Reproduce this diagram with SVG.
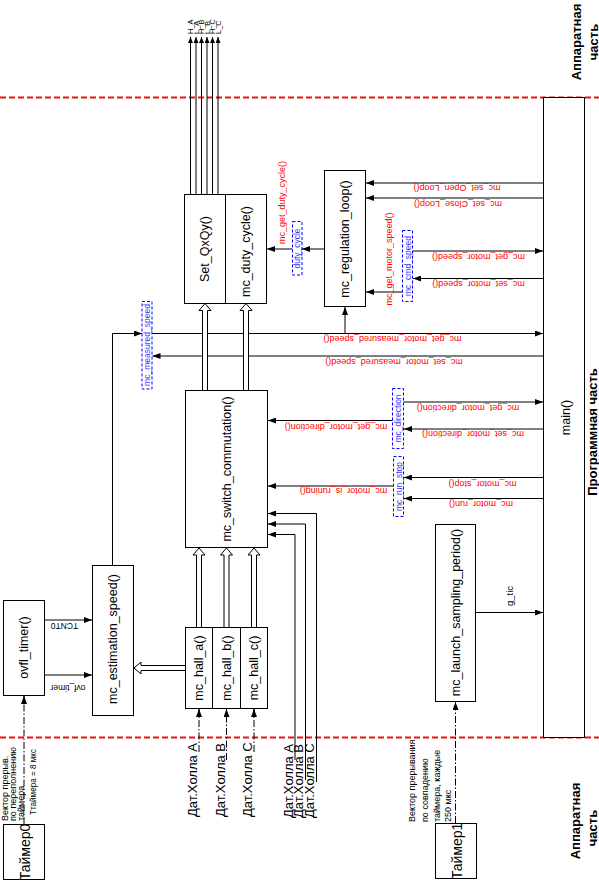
<svg xmlns="http://www.w3.org/2000/svg" width="599" height="881" viewBox="0 0 599 881">
<defs>
<style>
.box{fill:#fff;stroke:#000;stroke-width:1}
.vb{fill:none;stroke:#0000ff;stroke-width:1;stroke-dasharray:3,2}
.ln{fill:none;stroke:#000;stroke-width:1}
.dd{fill:none;stroke:#000;stroke-width:1;stroke-dasharray:7,2,1.5,2}
.ho{fill:#fff;stroke:#000;stroke-width:1}
.sep{stroke:#f01010;stroke-width:2;stroke-dasharray:6,3}
text{font-family:"Liberation Sans",Arial,sans-serif}
.bl{font-size:12.5px;text-anchor:middle;dominant-baseline:central;fill:#000}
.rd{font-size:9px;text-anchor:middle;dominant-baseline:central;fill:#ff0000}
.bu{font-size:8.5px;text-anchor:middle;dominant-baseline:central;fill:#3a3aff}
.sm{font-size:8.5px;text-anchor:middle;dominant-baseline:central;fill:#000}
.nt{font-size:9px;text-anchor:start;fill:#000}
.big{font-size:14px;text-anchor:middle;dominant-baseline:central;fill:#000}
.hl{font-size:13px;text-anchor:start;dominant-baseline:central;fill:#000}
.hd{font-size:13px;font-weight:bold;text-anchor:middle;dominant-baseline:central;fill:#000}
.tp{font-size:7.5px;text-anchor:start;dominant-baseline:central;fill:#000}
</style>
<marker id="a" markerWidth="8" markerHeight="6" refX="8" refY="3" orient="auto" markerUnits="userSpaceOnUse"><path d="M0,0 L8,3 L0,6 z" fill="#000"/></marker>
<marker id="s" markerWidth="6" markerHeight="5" refX="6" refY="2.5" orient="auto" markerUnits="userSpaceOnUse"><path d="M0,0 L6,2.5 L0,5 z" fill="#000"/></marker>
</defs>
<rect width="599" height="881" fill="#fff"/>

<g id="separators">
<line class="sep" x1="0" y1="97.5" x2="599" y2="97.5"/>
<line class="sep" x1="0" y1="737.5" x2="599" y2="737.5"/>
</g>

<g id="connectors">
<line class="ln" x1="190.5" y1="194" x2="190.5" y2="37" marker-end="url(#s)"/>
<line class="ln" x1="196" y1="194" x2="196" y2="37" marker-end="url(#s)"/>
<line class="ln" x1="201.5" y1="194" x2="201.5" y2="37" marker-end="url(#s)"/>
<line class="ln" x1="207" y1="194" x2="207" y2="37" marker-end="url(#s)"/>
<line class="ln" x1="212.5" y1="194" x2="212.5" y2="37" marker-end="url(#s)"/>
<line class="ln" x1="218" y1="194" x2="218" y2="37" marker-end="url(#s)"/>

<line class="ln" x1="543" y1="183" x2="366" y2="183" marker-end="url(#a)"/>
<line class="ln" x1="543" y1="198" x2="366" y2="198" marker-end="url(#a)"/>
<line class="ln" x1="413" y1="251" x2="543" y2="251" marker-end="url(#a)"/>
<line class="ln" x1="543" y1="278.5" x2="413" y2="278.5" marker-end="url(#a)"/>
<line class="ln" x1="402.5" y1="292" x2="366" y2="292" marker-end="url(#a)"/>
<line class="ln" x1="324" y1="249" x2="302" y2="249" marker-end="url(#a)"/>
<line class="ln" x1="292.5" y1="249" x2="267" y2="249" marker-end="url(#a)"/>

<path class="ln" d="M112.5,565 V333.5 H142" marker-end="url(#a)"/>
<line class="ln" x1="152" y1="333.5" x2="543" y2="333.5" marker-end="url(#a)"/>
<line class="ln" x1="345" y1="333.5" x2="345" y2="307" marker-end="url(#a)"/>
<line class="ln" x1="543" y1="356" x2="152.5" y2="356" marker-end="url(#a)"/>

<line class="ln" x1="392.5" y1="420.5" x2="268" y2="420.5" marker-end="url(#a)"/>
<line class="ln" x1="403.5" y1="402" x2="543" y2="402" marker-end="url(#a)"/>
<line class="ln" x1="543" y1="429" x2="404" y2="429" marker-end="url(#a)"/>
<line class="ln" x1="543" y1="477.5" x2="404" y2="477.5" marker-end="url(#a)"/>
<line class="ln" x1="543" y1="498.5" x2="404" y2="498.5" marker-end="url(#a)"/>
<line class="ln" x1="393.5" y1="486" x2="268" y2="486" marker-end="url(#a)"/>

<path class="ln" d="M316.5,782 V513.5 H268" marker-end="url(#a)"/>
<path class="ln" d="M305.5,780 V524 H268" marker-end="url(#a)"/>
<path class="ln" d="M295,760 V534.5 H268" marker-end="url(#a)"/>

<line class="ln" x1="44.5" y1="620" x2="92" y2="620" marker-end="url(#a)"/>
<line class="ln" x1="44.5" y1="675" x2="92" y2="675" marker-end="url(#a)"/>
<line class="ln" x1="476" y1="612.5" x2="543" y2="612.5" marker-end="url(#a)"/>

<line class="dd" x1="24" y1="824" x2="24" y2="696"/>
<line class="ln" x1="24" y1="704" x2="24" y2="696" marker-end="url(#a)"/>
<line class="dd" x1="199" y1="752" x2="199" y2="709"/>
<line class="ln" x1="199" y1="717" x2="199" y2="709" marker-end="url(#a)"/>
<line class="dd" x1="226.5" y1="760" x2="226.5" y2="709"/>
<line class="ln" x1="226.5" y1="717" x2="226.5" y2="709" marker-end="url(#a)"/>
<line class="dd" x1="254" y1="752" x2="254" y2="709"/>
<line class="ln" x1="254" y1="717" x2="254" y2="709" marker-end="url(#a)"/>
<line class="dd" x1="455.5" y1="823" x2="455.5" y2="702"/>
<line class="ln" x1="455.5" y1="710" x2="455.5" y2="702" marker-end="url(#a)"/>

<path class="ho" d="M202.5,390 V310.5 H199 L205,303.5 L211,310.5 H207.5 V390"/>
<path class="ho" d="M243.5,390 V310.5 H240 L246,303.5 L252,310.5 H248.5 V390"/>
<path class="ho" d="M196.5,627 V555 H193 L199,548 L205,555 H201.5 V627"/>
<path class="ho" d="M224,627 V555 H220.5 L226.5,548 L232.5,555 H229 V627"/>
<path class="ho" d="M251.5,627 V555 H248 L254,548 L260,555 H256.5 V627"/>
<path class="ho" d="M185,665.5 H141 V662 L134,668 L141,674 V670.5 H185"/>

<text class="rd" transform="translate(457,188) rotate(180)">mc_set_Open_Loop()</text>
<text class="rd" transform="translate(458,204) rotate(180)">mc_set_Close_Loop()</text>
<text class="rd" transform="translate(478.5,256.5) rotate(180)">mc_get_motor_speed()</text>
<text class="rd" transform="translate(478.5,284) rotate(180)">mc_set_motor_speed()</text>
<text class="rd" transform="translate(392.5,339) rotate(180)">mc_get_motor_measured_speed()</text>
<text class="rd" transform="translate(394,361.5) rotate(180)">mc_set_motor_measured_speed()</text>
<text class="rd" transform="translate(336,427) rotate(180)">mc_get_motor_direction()</text>
<text class="rd" transform="translate(468,407.5) rotate(180)">mc_get_motor_direction()</text>
<text class="rd" transform="translate(473,433.5) rotate(180)">mc_set_motor_direction()</text>
<text class="rd" transform="translate(482.5,483.5) rotate(180)">mc_motor_stop()</text>
<text class="rd" transform="translate(481,503.5) rotate(180)">mc_motor_run()</text>
<text class="rd" transform="translate(343.5,490.5) rotate(180)">mc_motor_is_runing()</text>
<text class="rd" transform="translate(281.5,202.5) rotate(-90)">mc_get_duty_cycle()</text>
<text class="rd" transform="translate(389,259) rotate(-90)">mc_get_motor_speed()</text>
<text class="sm" transform="translate(64.5,625.5) rotate(180)">TCNT0</text>
<text class="sm" transform="translate(68,688) rotate(180)">ovf_timer</text>
<text class="sm" transform="translate(509,596) rotate(-90)" style="font-size:9.5px">g_tic</text>
<text class="tp" transform="translate(190.5,34) rotate(-90)">H_A</text>
<text class="tp" transform="translate(196,34) rotate(-90)">L_A</text>
<text class="tp" transform="translate(201.5,34) rotate(-90)">H_B</text>
<text class="tp" transform="translate(207,34) rotate(-90)">L_B</text>
<text class="tp" transform="translate(212.5,34) rotate(-90)">H_C</text>
<text class="tp" transform="translate(218,34) rotate(-90)">L_C</text>
</g>

<g id="set_qxqy"><rect class="box" x="184.5" y="194.5" width="41" height="109"/><text class="bl" transform="translate(205,249) rotate(-90)">Set_QxQy()</text></g>
<g id="mc_duty_cycle"><rect class="box" x="225.5" y="194.5" width="41" height="109"/><text class="bl" transform="translate(246,251.5) rotate(-90)">mc_duty_cycle()</text></g>
<g id="mc_regulation_loop"><rect class="box" x="324.5" y="170.5" width="41" height="136"/><text class="bl" transform="translate(345,239) rotate(-90)">mc_regulation_loop()</text></g>
<g id="mc_switch_commutation"><rect class="box" x="185.5" y="390.5" width="82" height="157"/><text class="bl" transform="translate(226.5,469) rotate(-90)">mc_switch_commutation()</text></g>
<g id="mc_hall_a"><rect class="box" x="185.5" y="627.5" width="27" height="81"/><text class="bl" transform="translate(199,668) rotate(-90)">mc_hall_a()</text></g>
<g id="mc_hall_b"><rect class="box" x="212.5" y="627.5" width="28" height="81"/><text class="bl" transform="translate(226.5,668) rotate(-90)">mc_hall_b()</text></g>
<g id="mc_hall_c"><rect class="box" x="240.5" y="627.5" width="27" height="81"/><text class="bl" transform="translate(254,668) rotate(-90)">mc_hall_c()</text></g>
<g id="mc_estimation_speed"><rect class="box" x="92.5" y="565.5" width="41" height="150"/><text class="bl" transform="translate(113,639) rotate(-90)">mc_estimation_speed()</text></g>
<g id="ovfl_timer"><rect class="box" x="3.5" y="600.5" width="41" height="95"/><text class="bl" transform="translate(24,647.5) rotate(-90)">ovfl_timer()</text></g>
<g id="mc_launch_sampling_period"><rect class="box" x="435.5" y="524.5" width="40" height="177"/><text class="bl" transform="translate(455.5,612.5) rotate(-90)">mc_launch_sampling_period()</text></g>
<g id="main"><rect class="box" x="543.5" y="97.5" width="41" height="640"/><text class="bl" transform="translate(566,417.5) rotate(-90)">main()</text></g>
<g id="timer0"><rect class="box" x="3.5" y="824.5" width="41" height="55"/><text class="big" transform="translate(25,852) rotate(-90)">Таймер0</text>
<text class="nt" transform="translate(7.5,821) rotate(-90)">Вектор прерыв.</text>
<text class="nt" transform="translate(16,821) rotate(-90)">по переполнению</text>
<text class="nt" transform="translate(24,821) rotate(-90)">таймера</text>
<text class="nt" transform="translate(36,815) rotate(-90)" textLength="66" lengthAdjust="spacingAndGlyphs">Ттаймера = 8 мкс</text></g>
<g id="timer1"><rect class="box" x="435.5" y="823.5" width="41" height="55"/><text class="big" transform="translate(457,851) rotate(-90)">Таймер1</text>
<text class="nt" transform="translate(415,822) rotate(-90)">Вектор прерывания</text>
<text class="nt" transform="translate(427.5,822) rotate(-90)">по совпадению</text>
<text class="nt" transform="translate(440,822) rotate(-90)">таймера, каждые</text>
<text class="nt" transform="translate(451,822) rotate(-90)">250 мкс</text></g>
<g id="hall_sensors">
<text class="hl" transform="translate(192.5,817) rotate(-90)">Дат.Холла A</text>
<text class="hl" transform="translate(220,817) rotate(-90)">Дат.Холла B</text>
<text class="hl" transform="translate(247,817) rotate(-90)">Дат.Холла C</text>
<text class="hl" transform="translate(288,818) rotate(-90)">Дат.Холла A</text>
<text class="hl" transform="translate(298,818) rotate(-90)">Дат.Холла B</text>
<text class="hl" transform="translate(309.5,818) rotate(-90)">Дат.Холла C</text>
</g>
<g id="var_duty_cycle"><rect class="vb" x="292.5" y="221.5" width="9.5" height="53.5"/><text class="bu" transform="translate(297.2,248.5) rotate(-90)">duty_cycle</text></g>
<g id="var_cmd_speed"><rect class="vb" x="402.5" y="230.5" width="10" height="71"/><text class="bu" transform="translate(407.5,266) rotate(-90)">mc_cmd_speed</text></g>
<g id="var_measured_speed"><rect class="vb" x="142" y="301.5" width="10" height="87.5"/><text class="bu" transform="translate(147,345) rotate(-90)">mc_measured_speed</text></g>
<g id="var_direction"><rect class="vb" x="392.5" y="388.5" width="11" height="60"/><text class="bu" transform="translate(398,418.5) rotate(-90)">mc_direction</text></g>
<g id="var_run_stop"><rect class="vb" x="393.5" y="456.5" width="10" height="60"/><text class="bu" transform="translate(398.5,486.5) rotate(-90)">mc_run_stop</text></g>
<g id="zones">
<text class="hd" transform="translate(576.5,42) rotate(-90)">Аппаратная</text>
<text class="hd" transform="translate(593,42) rotate(-90)">часть</text>
<text class="hd" transform="translate(592,432) rotate(-90)">Программная часть</text>
<text class="hd" transform="translate(575.5,821) rotate(-90)">Аппаратная</text>
<text class="hd" transform="translate(592,828) rotate(-90)">часть</text>
</g>
</svg>
